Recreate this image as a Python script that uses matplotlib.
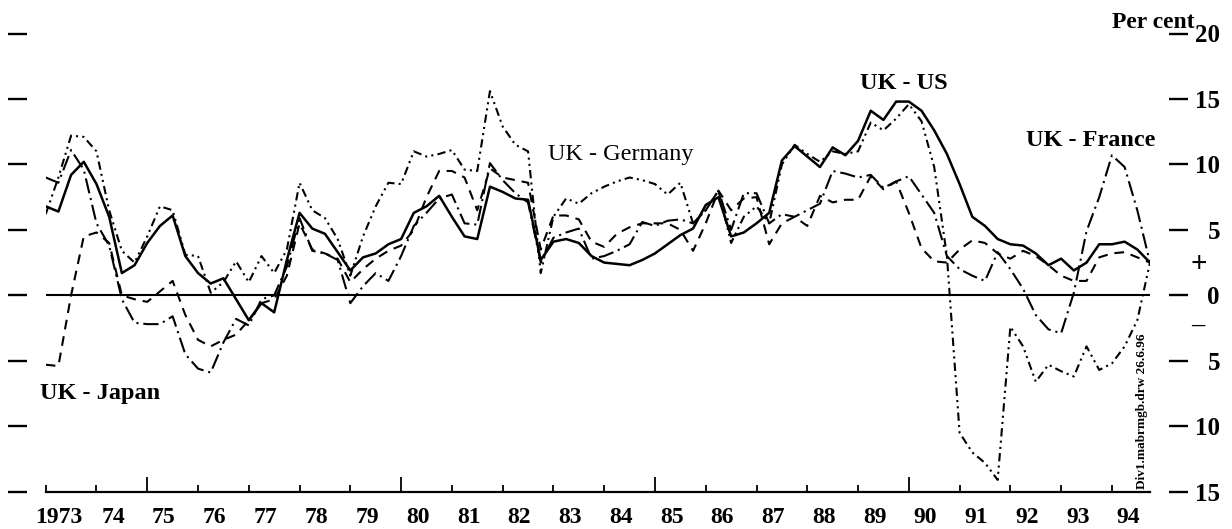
import numpy as np
import matplotlib
matplotlib.use("Agg")
from matplotlib import pyplot as plt

plt.rcParams['font.family'] = ['Liberation Serif', 'DejaVu Serif']
plt.rcParams['lines.scale_dashes'] = False

# quarterly data, 1973 Q1 - 1994 Q4
quarters = 1973 + np.arange(88) / 4

uk_us = [6.8, 6.4, 9.2, 10.2,
         8.5, 6.0, 1.7, 2.3,
         4.0, 5.3, 6.1, 3.0,
         1.7, 0.9, 1.3, -0.3,
         -1.9, -0.6, -1.3, 2.7,
         6.3, 5.1, 4.7, 3.3,
         1.9, 2.9, 3.2, 3.9,
         4.3, 6.3, 6.8, 7.6,
         6.0, 4.5, 4.3, 8.3,
         7.9, 7.4, 7.3, 2.7,
         4.1, 4.3, 4.0, 3.0,
         2.5, 2.4, 2.3, 2.7,
         3.2, 3.9, 4.6, 5.1,
         6.9, 7.5, 4.5, 4.8,
         5.5, 6.3, 10.3, 11.4,
         10.6, 9.8, 11.3, 10.7,
         11.8, 14.1, 13.4, 14.8,
         14.8, 14.1, 12.6, 10.8,
         8.5, 6.0, 5.3, 4.3,
         3.9, 3.8, 3.2, 2.3,
         2.8, 1.9, 2.5, 3.9,
         3.9, 4.1, 3.5, 2.5]

uk_germany = [6.2, 9.0, 12.2, 12.1,
              11.0, 6.5, 3.4, 2.5,
              4.5, 6.8, 6.5, 3.1,
              3.0, 0.2, 1.0, 2.6,
              1.0, 3.0, 1.7, 3.5,
              8.6, 6.5, 5.9, 4.3,
              1.5, 4.5, 6.8, 8.6,
              8.5, 11.0, 10.6, 10.8,
              11.1, 9.6, 9.5, 15.6,
              12.9, 11.5, 11.0, 1.7,
              6.0, 7.4, 7.0, 7.8,
              8.3, 8.7, 9.0, 8.8,
              8.5, 7.7, 8.6, 5.5,
              6.5, 8.0, 4.0, 6.0,
              6.8, 5.5, 10.0, 11.5,
              10.8, 10.2, 11.0, 10.8,
              11.0, 13.2, 12.6, 13.5,
              14.6, 13.3, 9.8, 3.0,
              -10.5, -12.0, -12.8, -14.1,
              -2.4, -3.9, -6.6, -5.3,
              -5.8, -6.2, -3.9, -5.7,
              -5.2, -3.9, -1.9, 2.5]

uk_france = [9.0, 8.6, 11.1, 9.6,
             5.5, 3.8, -0.3, -2.1,
             -2.2, -2.2, -1.6, -4.5,
             -5.6, -5.9, -3.6, -1.8,
             -2.3, -0.3, 0.0, 2.2,
             5.9, 3.4, 3.2, 2.7,
             -0.6, 0.7, 1.7, 1.1,
             3.0, 5.3, 6.3, 7.4,
             7.7, 5.5, 5.4, 10.1,
             8.8, 7.8, 7.1, 2.5,
             4.4, 4.8, 5.1, 2.8,
             3.0, 3.4, 3.9, 5.6,
             5.3, 5.7, 5.8, 5.5,
             6.5, 8.0, 5.0, 7.8,
             7.8, 5.5, 6.2, 6.0,
             6.5, 7.0, 9.5, 9.3,
             9.0, 9.2, 8.2, 8.7,
             9.1, 7.7, 6.3, 3.0,
             2.0, 1.5, 1.1, 3.3,
             2.0, 0.5, -1.5, -2.6,
             -2.9, 0.2, 4.9, 7.5,
             10.7, 9.8, 6.5, 2.5]

uk_japan = [-5.3, -5.4, 0.0, 4.5,
            4.8, 4.0, 0.0, -0.3,
            -0.5, 0.3, 1.1, -1.5,
            -3.4, -3.9, -3.4, -3.0,
            -1.9, -0.6, -0.3, 1.5,
            5.5, 3.5, 3.2, 2.8,
            1.0, 2.0, 2.8, 3.4,
            3.8, 5.0, 7.5, 9.5,
            9.5, 9.0, 6.5, 9.7,
            9.0, 8.8, 8.6, 3.5,
            6.1, 6.1, 5.8, 4.1,
            3.7, 4.7, 5.2, 5.5,
            5.5, 5.5, 5.0, 3.4,
            5.5, 8.0, 6.5, 7.4,
            7.5, 3.9, 5.5, 6.0,
            5.3, 7.6, 7.1, 7.3,
            7.3, 9.1, 8.1, 8.7,
            6.3, 3.6, 2.6, 2.5,
            3.5, 4.2, 4.0, 3.2,
            2.8, 3.4, 3.0, 2.3,
            1.5, 1.1, 1.1, 2.9,
            3.2, 3.3, 2.9, 2.5]

years = list(range(1973, 1995))
year_labels = ['1973'] + [str(y)[2:] for y in years[1:]]
big_years = [1975, 1980, 1985, 1990]
yticks = [20, 15, 10, 5, 0, -5, -10, -15]
ytick_labels = ['20', '15', '10', '5', '0', '5', '10', '15']

fig = plt.figure(figsize=(12.32, 5.29), dpi=100)
ax = fig.add_axes([45.7 / 1232, 37.3 / 529, (1150 - 45.7) / 1232, 458.2 / 529])

ax.axhline(0, color='black', lw=1.5)
ax.plot(quarters, uk_us, color='black', lw=1.8, ls='-')
ax.plot(quarters, uk_germany, color='black', lw=1.5, ls=(0, (6, 3, 1.5, 3, 1.5, 3)))
ax.plot(quarters, uk_france, color='black', lw=1.5, ls=(0, (11, 3.5, 1.5, 3.5)))
ax.plot(quarters, uk_japan, color='black', lw=1.5, ls=(0, (7, 5)))

ax.set_xlim(1973, 1994.75)
ax.set_ylim(-15, 20)

for s in ['top', 'left', 'right']:
    ax.spines[s].set_visible(False)
ax.spines['bottom'].set_linewidth(1.6)
ax.spines['left'].set_position(('outward', 13.2))
ax.spines['right'].set_position(('outward', 13.7))

# x axis: year ticks, labels sit a bit to the right of each tick
ax.set_xticks(years)
ax.set_xticklabels([])
ax.tick_params(axis='x', which='major', direction='in', length=5, width=1.3)
for tk, y in zip(ax.xaxis.get_major_ticks(), years):
    if y in big_years:
        tk.tick1line.set_markersize(11)
lab_pos = [y + 0.33 for y in years]
lab_pos[0] = 1973.26
ax.set_xticks(lab_pos, year_labels, minor=True)
ax.tick_params(axis='x', which='minor', length=0, pad=11, labelsize=17)
for lbl in ax.get_xticklabels(minor=True):
    lbl.set_fontweight('bold')

# y axis: plain ticks on the left, labelled ticks on the right
ax.set_yticks(yticks, ytick_labels)
ax.tick_params(axis='y', which='major', left=True, right=True, labelleft=False, labelright=True,
               direction='out', length=14, width=1.7, labelsize=18, pad=22.7)
for tk in ax.yaxis.get_major_ticks():
    tk.label2.set_horizontalalignment('right')
    tk.label2.set_fontweight('bold')

ax.text(1994.0, 20.42, 'Per cent', fontsize=17, fontweight='bold', ha='left', va='baseline')
ax.text(1995.72, 2.33, '+', fontsize=21, fontweight='bold', ha='center', va='center', clip_on=False)
ax.text(1995.70, -2.3, '\u2013', fontsize=19, fontweight='bold', ha='center', va='center', clip_on=False)

ax.text(1989.04, 15.73, 'UK - US', fontsize=17.5, fontweight='bold', ha='left', va='baseline')
ax.text(1992.30, 11.41, 'UK - France', fontsize=17.5, fontweight='bold', ha='left', va='baseline')
ax.text(1982.89, 10.34, 'UK - Germany', fontsize=17.5, ha='left', va='baseline')
ax.text(1972.89, -7.9, 'UK - Japan', fontsize=17.5, fontweight='bold', ha='left', va='baseline')

ax.text(1994.59, -14.77, 'Div1.mabrmgb.drw 26.6.96', fontsize=9.5, fontweight='bold',
        rotation=90, ha='center', va='bottom')

fig.savefig('out.png', dpi=100)
